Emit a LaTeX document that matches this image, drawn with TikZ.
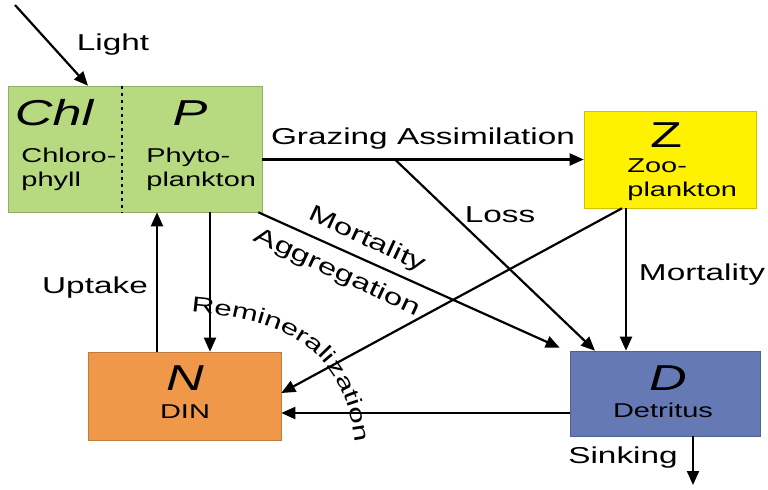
\documentclass[tikz,border=0pt]{standalone}
\usepackage{fontspec}
\setmainfont[FakeStretch=1.45]{Liberation Sans}
\usetikzlibrary{arrows.meta,decorations.text}
\definecolor{pgreen}{RGB}{183,217,128}
\definecolor{zyellow}{RGB}{255,242,0}
\definecolor{norange}{RGB}{240,152,74}
\definecolor{dblue}{RGB}{101,121,180}
\tikzset{
  box/.style={rectangle, draw=#1!80!black, line width=0.3pt, inner sep=0pt},
  big/.style={font=\fontsize{18}{18}\selectfont\itshape, inner sep=0pt},
  small/.style={font=\fontsize{10}{12}\selectfont, inner sep=0pt, align=left},
  lab/.style={font=\fontsize{11.5}{13}\selectfont, inner sep=0pt},
  flow/.style={line width=1.1pt, -{Triangle[length=7pt,width=6pt]}},
}
\begin{document}
\begin{tikzpicture}[x=0.5pt,y=0.5pt]
\useasboundingbox (0,0) rectangle (768,489);
% boxes
\node[box=pgreen, fill=pgreen, minimum width=127pt, minimum height=63pt] (PC) at (135,340) {};
\node[box=zyellow, fill=zyellow, minimum width=86pt, minimum height=48.5pt] (Z) at (670,329.5) {};
\node[box=norange, fill=norange, minimum width=96.5pt, minimum height=44pt] (N) at (184.5,93) {};
\node[box=dblue, fill=dblue, minimum width=95pt, minimum height=42.5pt] (D) at (665,95.5) {};
% divider
\draw[line width=1.2pt, dash pattern=on 1.5pt off 2pt] (PC.north -| 122,0) -- (PC.south -| 122,0);
% box texts
\node[big] (chl) at (54,376) {Chl};
\node[big] (p) at (190,376) {P};
\node[small, anchor=west] (chlt) at (21,320) {Chloro-\\phyll};
\node[small, anchor=west] (pt) at (146,320) {Phyto-\\plankton};
\node[big, font=\fontsize{18}{18}\selectfont] (zl) at (666,354) {Z};
\node[small, anchor=west] (zt) at (627,309) {Zoo-\\plankton};
\node[big] (nl) at (185,111) {N};
\node[small] (nt) at (185,77) {DIN};
\node[big] (dl) at (668,111) {D};
\node[small] (dt) at (663,79) {Detritus};
% coordinates
\coordinate (lightsrc) at (15,484);
\coordinate (lossstart) at (395,329.5);
\coordinate (sinkend) at (693,4);
% arrows
\draw[flow] (lightsrc) -- (PC.north -| 88,0);
\draw[flow] (PC.east |- Z.west) -- (Z.west);
\draw[flow] (lossstart) -- (D.north -| 595,0);
\draw[flow] (PC.south east) ++(-4,0) -- ([xshift=-5pt,yshift=1.5pt]D.north west);
\draw[flow] (Z.south -| 626,0) -- (D.north -| 626,0);
\draw[flow] (Z.south -| 622,0) -- (N.east |- 0,96);
\draw[flow] (D.west |- 0,76) -- (N.east |- 0,76);
\draw[flow] (N.north -| 157,0) -- (PC.south -| 157,0);
\draw[flow] (PC.south -| 210,0) -- (N.north -| 210,0);
\draw[flow] (D.south -| 693,0) -- (sinkend);
% labels
\node[lab] (llight) at (113,444) {Light};
\node[lab] (lgraz) at (423,350) {Grazing Assimilation};
\node[lab] (lloss) at (500,274) {Loss};
\node[lab] (lzmort) at (702,214) {Mortality};
\node[lab] (lup) at (95,201) {Uptake};
\node[lab] (lsink) at (623,31) {Sinking};
\node[lab, rotate=-25] (lpmort) at (367,249) {Mortality};
\node[lab, rotate=-25] (lagg) at (337,216) {Aggregation};
\path[decorate, decoration={text along path, text align=left,
  text={|\fontsize{10.8}{13}\selectfont|Remineralization}}]
  (191,177) .. controls (292,168) and (356,140) .. (358,10);
\end{tikzpicture}
\end{document}
